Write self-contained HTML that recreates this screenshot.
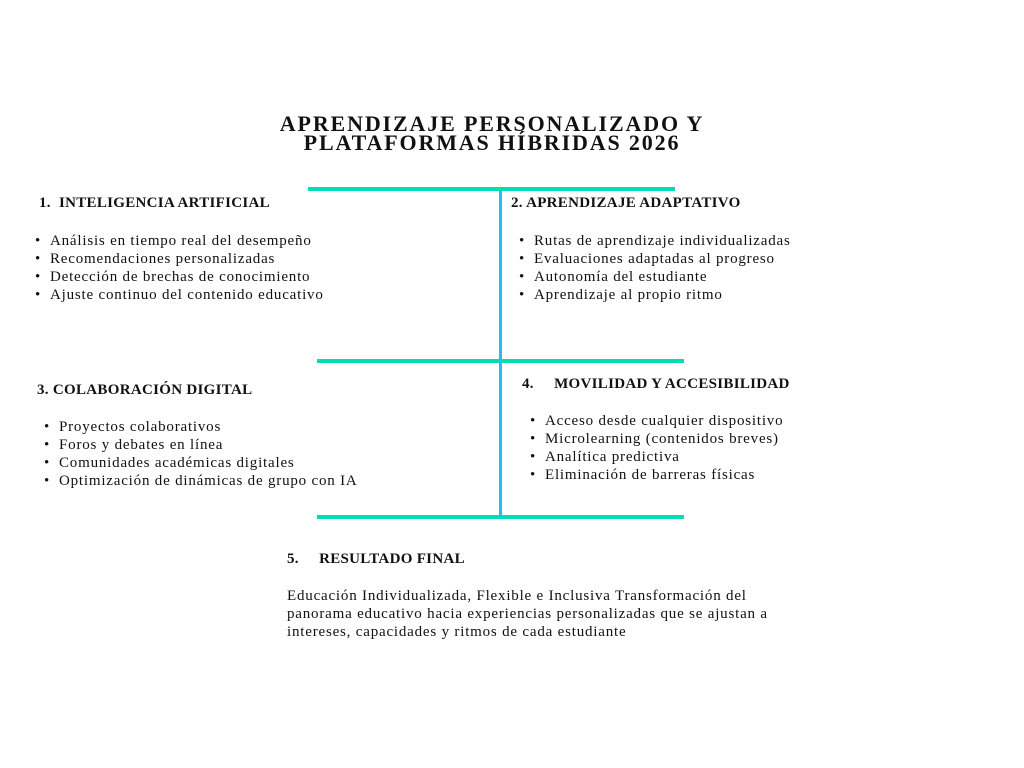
<!DOCTYPE html>
<html><head><meta charset="utf-8"><style>
body{margin:0;width:1024px;height:768px;background:#fff;position:relative;font-family:"Liberation Serif",serif;color:#111;overflow:hidden}
.a{position:absolute;white-space:nowrap}
.t{font-weight:bold;font-size:22px;letter-spacing:1.85px;line-height:19px;text-align:center;left:0;width:984px;top:114px}
.h{font-weight:bold;font-size:15px;letter-spacing:0.3px}
.l{font-size:15px;line-height:18px;letter-spacing:0.8px}
.l div:before{content:"•";position:absolute;margin-left:-15px}
.hl{position:absolute;height:4px;background:#00dcb4}
</style></head><body>
<div class="a t">APRENDIZAJE PERSONALIZADO Y<br>PLATAFORMAS HÍBRIDAS 2026</div>
<div class="hl" style="left:308px;top:187px;width:367px"></div>
<div class="hl" style="left:317px;top:359px;width:367px"></div>
<div class="hl" style="left:317px;top:515px;width:367px"></div>
<div style="position:absolute;left:499px;top:189px;width:3px;height:328px;background:#1ec0ee"></div>

<div class="a h" style="left:39px;top:195px">1.&nbsp; INTELIGENCIA ARTIFICIAL</div>
<div class="a l" style="left:50px;top:232px"><div>Análisis en tiempo real del desempeño</div><div>Recomendaciones personalizadas</div><div>Detección de brechas de conocimiento</div><div>Ajuste continuo del contenido educativo</div></div>

<div class="a h" style="left:511px;top:195px">2. APRENDIZAJE ADAPTATIVO</div>
<div class="a l" style="left:534px;top:232px"><div>Rutas de aprendizaje individualizadas</div><div>Evaluaciones adaptadas al progreso</div><div>Autonomía del estudiante</div><div>Aprendizaje al propio ritmo</div></div>

<div class="a h" style="left:37px;top:382px">3. COLABORACIÓN DIGITAL</div>
<div class="a l" style="left:59px;top:418px"><div>Proyectos colaborativos</div><div>Foros y debates en línea</div><div>Comunidades académicas digitales</div><div>Optimización de dinámicas de grupo con IA</div></div>

<div class="a h" style="left:522px;top:376px">4.&nbsp;&nbsp;&nbsp;&nbsp; MOVILIDAD Y ACCESIBILIDAD</div>
<div class="a l" style="left:545px;top:412px"><div>Acceso desde cualquier dispositivo</div><div>Microlearning (contenidos breves)</div><div>Analítica predictiva</div><div>Eliminación de barreras físicas</div></div>

<div class="a h" style="left:287px;top:551px">5.&nbsp;&nbsp;&nbsp;&nbsp; RESULTADO FINAL</div>
<div class="a l" style="left:287px;top:587px">Educación Individualizada, Flexible e Inclusiva Transformación del<br>panorama educativo hacia experiencias personalizadas que se ajustan a<br>intereses, capacidades y ritmos de cada estudiante</div>
</body></html>
